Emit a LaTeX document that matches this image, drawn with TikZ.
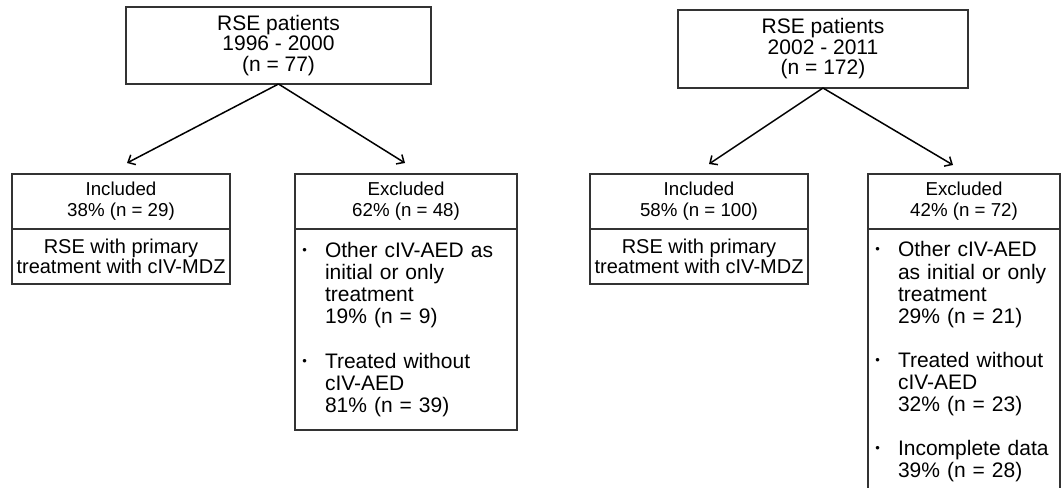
\documentclass[tikz,border=0pt]{standalone}
\usepackage{fontspec}
\setmainfont{Liberation Sans}
\usepackage{tikz}
\usetikzlibrary{arrows.meta, positioning}
\tikzstyle{block} = [draw=black!80, line width=1.5pt, rectangle,
    outer sep=0pt, inner sep=0pt, align=center]
\tikzstyle{topblock} = [block, minimum height=77pt, font=\fontsize{21}{20.5}\selectfont]
\tikzstyle{headblock} = [block, minimum height=55pt, font=\fontsize{18.7}{21}\selectfont]
\tikzstyle{bodyblock} = [block, minimum height=55pt, font=\fontsize{20}{20}\selectfont]
\tikzstyle{listblock} = [block, align=left, font=\fontsize{21}{22.1}\selectfont]
\tikzstyle{tip} = [coordinate]
\newcommand{\itm}{\leavevmode\llap{\raisebox{3pt}{\fontsize{13}{13}\selectfont\textbullet}\hspace{18pt}}}

\begin{document}
\begin{tikzpicture}[auto, x=1pt, y=-1pt, node distance=0pt,
    >={Straight Barb[length=6pt,width=11pt]}, line width=1.5pt]
    \useasboundingbox (0,0) rectangle (1062,487);
    % 1996 - 2000
    \node [topblock, minimum width=305pt] (rse1) at (278.5,45.5) {RSE patients\\1996 - 2000\\(n = 77)};
    \node [headblock, minimum width=218pt, anchor=north west] (inc1) at (12,174) {Included\\38\% (n = 29)};
    \node [bodyblock, minimum width=218pt, below=of inc1] (inc1body) {RSE with primary\\treatment with cIV-MDZ};
    \node [headblock, minimum width=222pt, anchor=north west] (exc1) at (295,174) {Excluded\\62\% (n = 48)};
    \node [listblock, text width=222pt, minimum height=201pt, below=of exc1] (exc1body) {\leftskip=30pt
        \itm Other cIV-AED as\\initial or only\\treatment\\19\% (n = 9)\\[22.1pt]
        \itm Treated without\\cIV-AED\\81\% (n = 39)\par};
    \node [tip] (inc1tip) at (127,163) {};
    \node [tip] (exc1tip) at (405,163) {};
    \draw [->] (rse1.south) -- (inc1tip);
    \draw [->] (rse1.south) -- (exc1tip);
    % 2002 - 2011
    \node [topblock, minimum width=290pt, minimum height=78pt] (rse2) at (823,49) {RSE patients\\2002 - 2011\\(n = 172)};
    \node [headblock, minimum width=218pt, anchor=north west] (inc2) at (590,174) {Included\\58\% (n = 100)};
    \node [bodyblock, minimum width=218pt, below=of inc2] (inc2body) {RSE with primary\\treatment with cIV-MDZ};
    \node [headblock, minimum width=192pt, anchor=north west] (exc2) at (868,174) {Excluded\\42\% (n = 72)};
    \node [listblock, text width=192pt, minimum height=266pt, below=of exc2] (exc2body) {\leftskip=30pt
        \itm Other cIV-AED\\as initial or only\\treatment\\29\% (n = 21)\\[22.1pt]
        \itm Treated without\\cIV-AED\\32\% (n = 23)\\[22.1pt]
        \itm Incomplete data\\39\% (n = 28)\par};
    \node [tip] (inc2tip) at (709,164) {};
    \node [tip] (exc2tip) at (953,165) {};
    \draw [->] (rse2.south) -- (inc2tip);
    \draw [->] (rse2.south) -- (exc2tip);
\end{tikzpicture}
\end{document}
